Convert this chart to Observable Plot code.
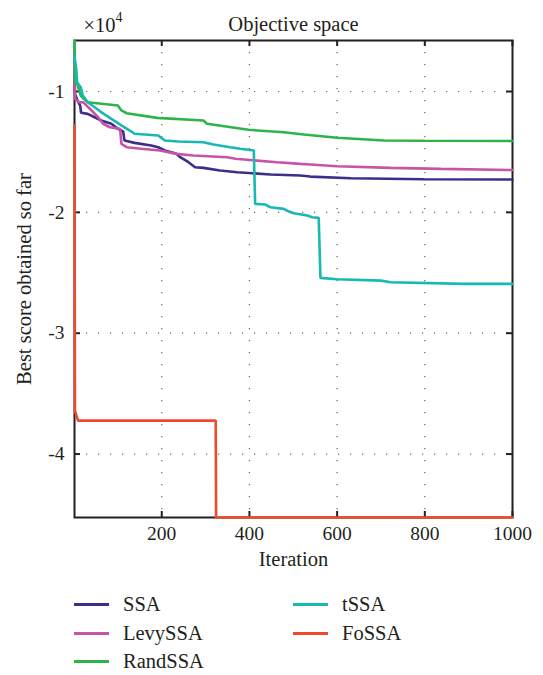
<!DOCTYPE html>
<html>
<head>
<meta charset="utf-8">
<script src="https://cdn.jsdelivr.net/npm/d3@7"></script>
<script src="https://cdn.jsdelivr.net/npm/@observablehq/plot@0.6"></script>
<style>
  body { margin: 0; background: #fff; }
  #chart { position: relative; width: 543px; height: 675px; font-family: "Liberation Serif", serif; color: #231f20; }
  #chart svg { display: block; }
  .item { position: absolute; height: 24px; line-height: 24px; display: flex; align-items: center; font-size: 20.5px; white-space: nowrap; }
  .swatch { width: 35px; height: 3px; margin-right: 14px; }
</style>
</head>
<body>
<div id="chart"></div>
<script>
// Best score so far (in units of 10^4) against iteration, one pair of arrays per algorithm.
const ssaIter = [1, 2, 8, 14, 16, 31, 47, 62, 85, 100, 112, 115, 138, 176, 192, 207, 234, 242, 261, 276, 295, 333, 372, 448, 516, 539, 631, 799, 1000];
const ssaBest = [-0.86, -1.02, -1.075, -1.116, -1.176, -1.185, -1.213, -1.24, -1.267, -1.309, -1.33, -1.406, -1.425, -1.447, -1.461, -1.488, -1.516, -1.544, -1.585, -1.627, -1.632, -1.654, -1.668, -1.687, -1.695, -1.704, -1.718, -1.726, -1.728];

const levyIter = [1, 2, 12, 21, 36, 55, 66, 82, 105, 108, 120, 153, 196, 234, 272, 349, 368, 463, 516, 539, 600, 722, 837, 1000];
const levyBest = [-0.694, -1.06, -1.089, -1.09, -1.143, -1.213, -1.267, -1.296, -1.309, -1.433, -1.461, -1.474, -1.488, -1.516, -1.53, -1.544, -1.557, -1.585, -1.599, -1.604, -1.618, -1.632, -1.64, -1.65];

const randIter = [1, 2, 7, 15, 22, 31, 100, 108, 120, 189, 295, 303, 398, 478, 524, 600, 707, 798, 1000];
const randBest = [-0.578, -0.923, -0.936, -1.033, -1.06, -1.089, -1.116, -1.157, -1.18, -1.218, -1.24, -1.267, -1.317, -1.337, -1.356, -1.383, -1.406, -1.408, -1.41];

const tIter = [1, 5, 7, 15, 20, 31, 47, 62, 85, 108, 127, 138, 192, 207, 237, 295, 318, 356, 379, 410, 413, 436, 448, 478, 490, 501, 532, 543, 558, 562, 600, 700, 722, 890, 1000];
const tBest = [-0.71, -0.812, -0.923, -0.964, -1.033, -1.089, -1.13, -1.171, -1.226, -1.281, -1.323, -1.35, -1.364, -1.406, -1.414, -1.42, -1.439, -1.461, -1.474, -1.488, -1.93, -1.935, -1.958, -1.971, -1.993, -2.007, -2.026, -2.04, -2.046, -2.542, -2.554, -2.565, -2.579, -2.592, -2.592];

const foIter = [1, 2, 9, 323, 324, 1000];
const foBest = [-1.281, -3.64, -3.723, -3.723, -4.525, -4.525];

const seriesNames = ["SSA", "LevySSA", "RandSSA", "tSSA", "FoSSA"];
const seriesColors = ["#3b2e8c", "#c655a8", "#2fb44b", "#17b9b2", "#ef4a2b"];
const xTicks = [200, 400, 600, 800, 1000];
const yTicks = [-1, -2, -3, -4];

const seriesData = [
  [ssaIter, ssaBest], [levyIter, levyBest], [randIter, randBest], [tIter, tBest], [foIter, foBest]
];
const rows = seriesData.flatMap(([it, val], i) =>
  it.map((x, j) => ({series: seriesNames[i], iteration: x, best: val[j]})));

const W = 543, H = 585, mL = 74, mR = 31, mT = 40, mB = 68;
const innerW = W - mL - mR, innerH = H - mT - mB;
const ink = "#231f20";
const tickFont = 19.5, labelFont = 20.5;

const chart = Plot.plot({
  width: W, height: H,
  marginLeft: mL, marginRight: mR, marginTop: mT, marginBottom: mB,
  style: {fontFamily: "'Liberation Serif', serif", fontSize: "19px", color: ink, background: "#fff", overflow: "visible"},
  x: {domain: [1, 1000]},
  y: {domain: d3.extent(rows, d => d.best)},
  color: {domain: seriesNames, range: seriesColors},
  marks: [
    Plot.gridX(xTicks, {stroke: "#666", strokeOpacity: 1, strokeWidth: 1.2, strokeDasharray: "1.2,10.8"}),
    Plot.gridY(yTicks, {stroke: "#666", strokeOpacity: 1, strokeWidth: 1.2, strokeDasharray: "1.2,10.8"}),
    Plot.frame({stroke: ink, strokeWidth: 2}),
    // inward tick marks on all four sides
    Plot.tickX(xTicks, {stroke: ink, strokeWidth: 2, insetTop: innerH - 6}),
    Plot.tickX(xTicks, {stroke: ink, strokeWidth: 2, insetBottom: innerH - 6}),
    Plot.tickY(yTicks, {stroke: ink, strokeWidth: 2, insetRight: innerW - 6}),
    Plot.tickY(yTicks, {stroke: ink, strokeWidth: 2, insetLeft: innerW - 6}),
    Plot.axisX({ticks: xTicks, tickSize: 0, tickPadding: 9, tickFormat: d => String(d), label: null, fontSize: tickFont, fill: ink}),
    Plot.axisY({ticks: yTicks, tickSize: 0, tickPadding: 10, tickFormat: d => String(d), label: null, fontSize: tickFont, fill: ink}),
    Plot.line(rows, {x: "iteration", y: "best", z: "series", stroke: "series", strokeWidth: 2.6, strokeLinejoin: "miter"}),
    Plot.text(["Objective space"], {text: d => d, frameAnchor: "top", dy: -24, fontSize: labelFont, fill: ink}),
    Plot.text(["×10"], {text: d => d, frameAnchor: "top-left", textAnchor: "start", dx: 9, dy: -23, fontSize: labelFont, fill: ink}),
    Plot.text(["4"], {text: d => d, frameAnchor: "top-left", textAnchor: "start", dx: 41, dy: -28, fontSize: 14, fill: ink}),
    Plot.text(["Iteration"], {text: d => d, frameAnchor: "bottom", dy: 48, fontSize: labelFont, fill: ink}),
    Plot.text(["Best score obtained so far"], {text: d => d, frameAnchor: "left", textAnchor: "middle", rotate: -90, dx: -50, fontSize: labelFont, fill: ink})
  ]
});

const root = document.getElementById("chart");
root.appendChild(chart);

// legend below the plot, two columns
const legendPos = [[74, 604], [74, 633], [74, 661], [293, 604], [293, 633]];
const legendOrder = ["SSA", "LevySSA", "RandSSA", "tSSA", "FoSSA"];
legendOrder.forEach((name, i) => {
  const [lx, ly] = legendPos[i];
  const item = document.createElement("div");
  item.className = "item";
  item.style.left = lx + "px";
  item.style.top = (ly - 12) + "px";
  const sw = document.createElement("span");
  sw.className = "swatch";
  sw.style.background = seriesColors[seriesNames.indexOf(name)];
  const label = document.createElement("span");
  label.textContent = name;
  item.appendChild(sw);
  item.appendChild(label);
  root.appendChild(item);
});
</script>
</body>
</html>
